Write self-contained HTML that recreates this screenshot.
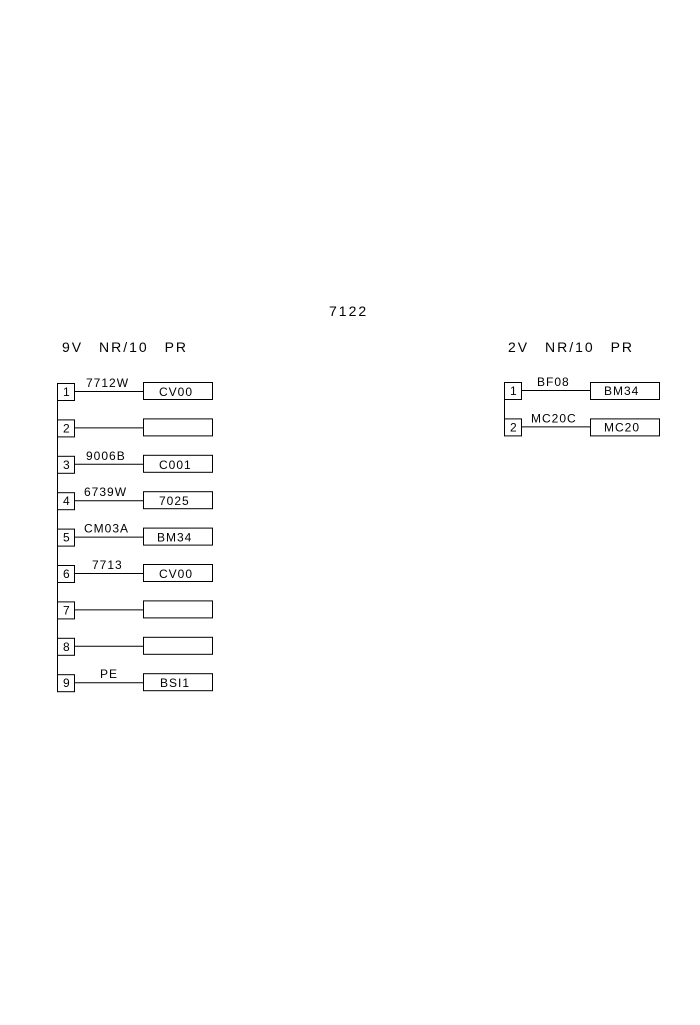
<!DOCTYPE html>
<html><head><style>body{margin:0;background:#fff}</style></head><body>
<svg width="700" height="1020" xmlns="http://www.w3.org/2000/svg" font-family="Liberation Sans, sans-serif" fill="none" stroke="#000" stroke-width="1">
<g fill="#000" stroke="none" font-size="14" letter-spacing="2">
<text x="329" y="316">7122</text>
<text x="62" y="352" word-spacing="10">9V NR/10 PR</text>
<text x="508" y="352" word-spacing="10">2V NR/10 PR</text>
</g>
<line x1="57.5" y1="383" x2="57.5" y2="692"/>
<line x1="504.5" y1="382" x2="504.5" y2="436"/>
<g font-size="12" letter-spacing="1">
<g transform="translate(0,0)">
<rect x="57.5" y="383.5" width="17" height="17"/><line x1="74.5" y1="391.5" x2="143.5" y2="391.5"/><rect x="143.5" y="382.5" width="69" height="17"/>
<text x="63" y="396" fill="#000" stroke="none">1</text><text x="86" y="387" fill="#000" stroke="none">7712W</text><text x="159" y="396" fill="#000" stroke="none">CV00</text></g>
<g transform="translate(0,36.4)">
<rect x="57.5" y="383.5" width="17" height="17"/><line x1="74.5" y1="391.5" x2="143.5" y2="391.5"/><rect x="143.5" y="382.5" width="69" height="17"/>
<text x="63" y="396" fill="#000" stroke="none">2</text></g>
<g transform="translate(0,72.8)">
<rect x="57.5" y="383.5" width="17" height="17"/><line x1="74.5" y1="391.5" x2="143.5" y2="391.5"/><rect x="143.5" y="382.5" width="69" height="17"/>
<text x="63" y="396" fill="#000" stroke="none">3</text><text x="86" y="387" fill="#000" stroke="none">9006B</text><text x="159" y="396" fill="#000" stroke="none">C001</text></g>
<g transform="translate(0,109.2)">
<rect x="57.5" y="383.5" width="17" height="17"/><line x1="74.5" y1="391.5" x2="143.5" y2="391.5"/><rect x="143.5" y="382.5" width="69" height="17"/>
<text x="63" y="396" fill="#000" stroke="none">4</text><text x="84" y="387" fill="#000" stroke="none">6739W</text><text x="159" y="396" fill="#000" stroke="none">7025</text></g>
<g transform="translate(0,145.6)">
<rect x="57.5" y="383.5" width="17" height="17"/><line x1="74.5" y1="391.5" x2="143.5" y2="391.5"/><rect x="143.5" y="382.5" width="69" height="17"/>
<text x="63" y="396" fill="#000" stroke="none">5</text><text x="84" y="387" fill="#000" stroke="none">CM03A</text><text x="157" y="396" fill="#000" stroke="none">BM34</text></g>
<g transform="translate(0,182)">
<rect x="57.5" y="383.5" width="17" height="17"/><line x1="74.5" y1="391.5" x2="143.5" y2="391.5"/><rect x="143.5" y="382.5" width="69" height="17"/>
<text x="63" y="396" fill="#000" stroke="none">6</text><text x="92" y="387" fill="#000" stroke="none">7713</text><text x="159" y="396" fill="#000" stroke="none">CV00</text></g>
<g transform="translate(0,218.4)">
<rect x="57.5" y="383.5" width="17" height="17"/><line x1="74.5" y1="391.5" x2="143.5" y2="391.5"/><rect x="143.5" y="382.5" width="69" height="17"/>
<text x="63" y="396" fill="#000" stroke="none">7</text></g>
<g transform="translate(0,254.8)">
<rect x="57.5" y="383.5" width="17" height="17"/><line x1="74.5" y1="391.5" x2="143.5" y2="391.5"/><rect x="143.5" y="382.5" width="69" height="17"/>
<text x="63" y="396" fill="#000" stroke="none">8</text></g>
<g transform="translate(0,291.2)">
<rect x="57.5" y="383.5" width="17" height="17"/><line x1="74.5" y1="391.5" x2="143.5" y2="391.5"/><rect x="143.5" y="382.5" width="69" height="17"/>
<text x="63" y="396" fill="#000" stroke="none">9</text><text x="100" y="387" fill="#000" stroke="none">PE</text><text x="160" y="396" fill="#000" stroke="none">BSI1</text></g>
<g>
<rect x="504.5" y="382.5" width="17" height="17"/><line x1="521.5" y1="390.5" x2="590.5" y2="390.5"/><rect x="590.5" y="382.5" width="69" height="17"/>
<text x="510" y="395" fill="#000" stroke="none">1</text><text x="537" y="386" fill="#000" stroke="none">BF08</text><text x="604" y="395" fill="#000" stroke="none">BM34</text></g>
<g transform="translate(0,36.4)">
<rect x="504.5" y="382.5" width="17" height="17"/><line x1="521.5" y1="390.5" x2="590.5" y2="390.5"/><rect x="590.5" y="382.5" width="69" height="17"/>
<text x="510" y="395" fill="#000" stroke="none">2</text><text x="531" y="386" fill="#000" stroke="none">MC20C</text><text x="604" y="395" fill="#000" stroke="none">MC20</text></g>
</g>
</svg>
</body></html>
